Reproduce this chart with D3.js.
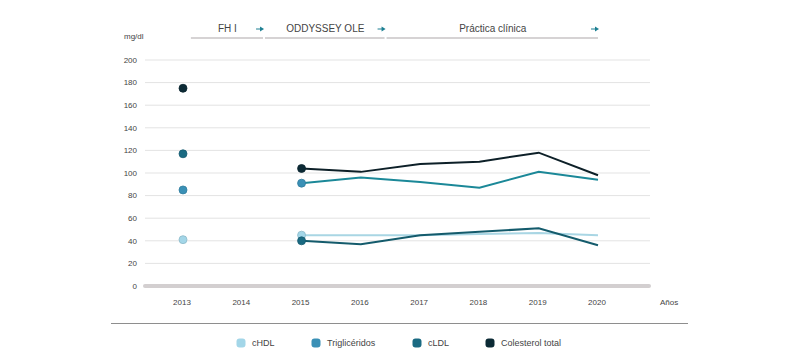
<!DOCTYPE html>
<html>
<head>
<meta charset="utf-8">
<script src="https://cdn.jsdelivr.net/npm/d3@7"></script>
<style>
  body { margin: 0; background: #fff; }
  text { font-family: "Liberation Sans", Arial, sans-serif; fill: #444; }
</style>
</head>
<body>
<div class="chart"></div>
<script>
//data
var years = [2013, 2014, 2015, 2016, 2017, 2018, 2019, 2020];
var yTicks = [0, 20, 40, 60, 80, 100, 120, 140, 160, 180, 200];
var seriesNames = ["cHDL", "Triglicéridos", "cLDL", "Colesterol total"];
// value in 2013 is a single point, the rest (2015-2020) is drawn as a line
var cHDL = [[2013, 41], [2015, 45], [2016, 45], [2017, 45], [2018, 46], [2019, 47], [2020, 45]];
var trigliceridos = [[2013, 85], [2015, 91], [2016, 96], [2017, 92], [2018, 87], [2019, 101], [2020, 94]];
var cLDL = [[2013, 117], [2015, 40], [2016, 37], [2017, 45], [2018, 48], [2019, 51], [2020, 36]];
var colTotal = [[2013, 175], [2015, 104], [2016, 101], [2017, 108], [2018, 110], [2019, 118], [2020, 98]];
var phases = [
    { "name": "FH I", "from": 2013.15, "to": 2014.35 },
    { "name": "ODDYSSEY OLE", "from": 2014.4, "to": 2016.4 },
    { "name": "Práctica clínica", "from": 2016.45, "to": 2020.0 }
];

var series = [
    { "name": seriesNames[0], "values": cHDL, "dot": "#a3d6e8", "line": "#a9d6e4" },
    { "name": seriesNames[1], "values": trigliceridos, "dot": "#3a90b6", "line": "#1b8898" },
    { "name": seriesNames[2], "values": cLDL, "dot": "#1a6a82", "line": "#145b6c" },
    { "name": seriesNames[3], "values": colTotal, "dot": "#0c2a35", "line": "#0d2028" }
];

var width = 800, height = 364;
var svg = d3.select('.chart').append('svg')
    .attr('width', width)
    .attr('height', height);

var x = d3.scaleLinear().domain([2013, 2020]).range([183, 598]);
var y = d3.scaleLinear().domain([0, 200]).range([286, 60]);

//gridlines
svg.append('g').selectAll('line')
    .data(yTicks.filter(function(d) { return d > 0; }))
    .enter().append('line')
    .attr('x1', 145).attr('x2', 650)
    .attr('y1', function(d) { return y(d); })
    .attr('y2', function(d) { return y(d); })
    .attr('stroke', '#e3e3e3')
    .attr('stroke-width', 1);

//zero line, thick and rounded
svg.append('line')
    .attr('x1', 145).attr('x2', 649)
    .attr('y1', y(0)).attr('y2', y(0))
    .attr('stroke', '#d3cfd0')
    .attr('stroke-width', 4)
    .attr('stroke-linecap', 'round');

//y labels
svg.append('g').selectAll('text')
    .data(yTicks)
    .enter().append('text')
    .attr('x', 137)
    .attr('y', function(d) { return y(d); })
    .attr('dy', '0.35em')
    .attr('text-anchor', 'end')
    .attr('font-size', 8)
    .text(function(d) { return d; });

svg.append('text')
    .attr('x', 124).attr('y', 39)
    .attr('font-size', 8)
    .text('mg/dl');

//x labels
svg.append('g').selectAll('text')
    .data(years)
    .enter().append('text')
    .attr('x', function(d) { return x(d) - 1; })
    .attr('y', 305)
    .attr('text-anchor', 'middle')
    .attr('font-size', 8)
    .text(function(d) { return d; });

svg.append('text')
    .attr('x', 660).attr('y', 305)
    .attr('font-size', 8)
    .text('Años');

//phases on top
var ph = svg.append('g').selectAll('g')
    .data(phases)
    .enter().append('g');
ph.append('line')
    .attr('x1', function(d) { return x(d.from) - 1; })
    .attr('x2', function(d) { return x(d.to); })
    .attr('y1', 38).attr('y2', 38)
    .attr('stroke', '#c9c5c6')
    .attr('stroke-width', 1.5);
ph.append('text')
    .attr('x', function(d) { return (x(d.from) + x(d.to)) / 2; })
    .attr('y', 32)
    .attr('text-anchor', 'middle')
    .attr('font-size', 10)
    .text(function(d) { return d.name; });
//little arrows
ph.append('line')
    .attr('x1', function(d) { return x(d.to) - 7; })
    .attr('x2', function(d) { return x(d.to) - 1; })
    .attr('y1', 29).attr('y2', 29)
    .attr('stroke', '#1c7f92')
    .attr('stroke-width', 1);
ph.append('path')
    .attr('d', function(d) {
        var e = x(d.to) + 1;
        return 'M' + (e - 4) + ',26.5L' + e + ',29L' + (e - 4) + ',31.5Z';
    })
    .attr('fill', '#1c7f92');

//lines 2015-2020
var line = d3.line()
    .x(function(d) { return x(d[0]); })
    .y(function(d) { return y(d[1]); });

svg.append('g').selectAll('path')
    .data(series)
    .enter().append('path')
    .attr('d', function(d) { return line(d.values.slice(1)); })
    .attr('fill', 'none')
    .attr('stroke', function(d) { return d.line; })
    .attr('stroke-width', 2);

//dots at 2013 and 2015
var dots = svg.append('g').selectAll('g')
    .data(series)
    .enter().append('g');
dots.selectAll('circle')
    .data(function(d) {
        return d.values.slice(0, 2).map(function(v) { return { v: v, s: d }; });
    })
    .enter().append('circle')
    .attr('cx', function(d) { return x(d.v[0]); })
    .attr('cy', function(d) { return y(d.v[1]); })
    .attr('r', 4)
    .attr('fill', function(d) { return d.s.dot; })
    .attr('stroke', function(d) { return d3.color(d.s.dot).darker(0.4); })
    .attr('stroke-width', 0.8);

//separator line
svg.append('line')
    .attr('x1', 111).attr('x2', 688)
    .attr('y1', 323.5).attr('y2', 323.5)
    .attr('stroke', '#8e8e8e')
    .attr('stroke-width', 1.2);

//legend
var legendX = [241, 316, 417, 490];
var legend = svg.append('g').selectAll('g')
    .data(series)
    .enter().append('g')
    .attr('transform', function(d, i) { return 'translate(' + legendX[i] + ',343)'; });
legend.append('rect')
    .attr('x', -4.5).attr('y', -4.5)
    .attr('width', 9).attr('height', 9)
    .attr('rx', 3)
    .attr('fill', function(d) { return d.dot; });
legend.append('text')
    .attr('x', 11)
    .attr('dy', '0.35em')
    .attr('font-size', 9)
    .text(function(d) { return d.name; });
</script>
</body>
</html>
